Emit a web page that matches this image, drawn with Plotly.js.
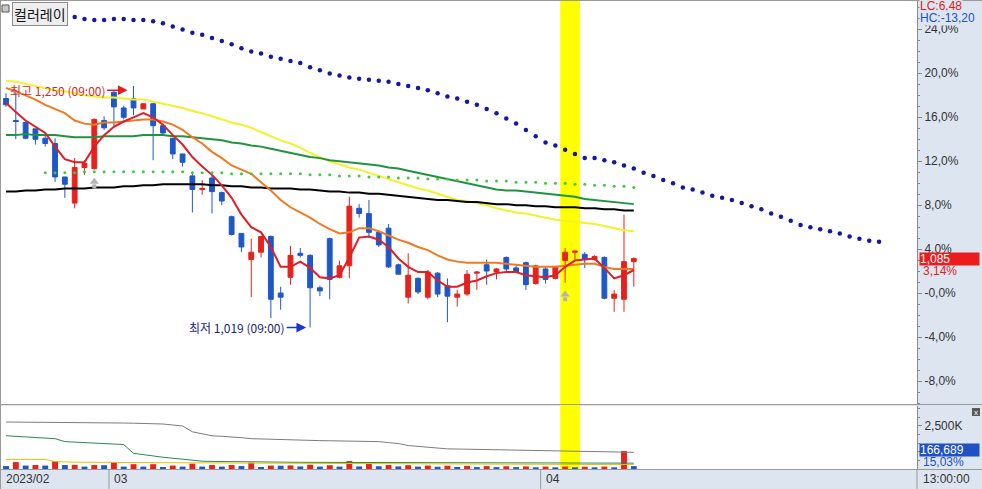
<!DOCTYPE html>
<html><head><meta charset="utf-8">
<script src="https://cdn.plot.ly/plotly-3.0.1.min.js"></script>
<style>html,body{margin:0;padding:0;background:#fff;}#chart{width:982px;height:489px;}</style>
</head><body><div id="chart"></div>
<script>
// ---------------- DATA ----------------
const basePrice = 1052;
const openP  = [1238,1217,1215,1209,1200,1195,1163,1138,1172,1171,1217,1244,1229,1238,1228,1233,1212,1200,1185,1164,1151,1162,1148,1125,1109,1084,1091,1106,1052,1067,1090,1088,1057,1104,1067,1078,1133,1128,1110,1114,1079,1048,1066,1048,1071,1059,1048,1051,1071,1079,1072,1086,1076,1081,1061,1075,1066,1083,1091,1089,1084,1086,1047,1046,1082];
const highP  = [1243,1246,1216,1209,1203,1200,1163,1181,1179,1219,1221,1245,1231,1250,1233,1234,1214,1200,1185,1168,1160,1165,1149,1126,1109,1104,1107,1107,1058,1097,1095,1089,1059,1105,1083,1144,1137,1141,1111,1118,1080,1090,1067,1074,1072,1066,1055,1074,1073,1084,1076,1087,1078,1082,1079,1077,1078,1095,1092,1091,1088,1087,1055,1127,1086];
const lowP   = [1230,1199,1199,1194,1192,1158,1143,1133,1165,1170,1208,1211,1218,1222,1228,1179,1203,1180,1173,1129,1146,1128,1136,1107,1091,1048,1086,1028,1036,1060,1086,1019,1049,1046,1066,1066,1124,1105,1096,1076,1070,1042,1051,1046,1048,1024,1039,1049,1055,1060,1065,1073,1071,1055,1060,1061,1065,1062,1084,1076,1083,1046,1034,1034,1058];
const closeP = [1232,1216,1200,1199,1195,1163,1156,1172,1176,1218,1210,1230,1220,1229,1233,1212,1205,1185,1177,1151,1152,1149,1140,1108,1096,1091,1106,1046,1048,1088,1088,1057,1054,1065,1078,1135,1128,1110,1098,1077,1070,1069,1053,1072,1051,1049,1051,1070,1072,1073,1075,1075,1072,1060,1078,1065,1077,1091,1092,1084,1087,1047,1051,1082,1085];
const volumeK = [170,400,200,230,200,450,230,240,140,230,220,400,140,280,140,280,115,200,140,310,140,230,140,230,170,370,115,200,190,210,150,250,140,220,140,460,150,290,160,230,150,220,140,200,130,190,120,180,110,170,110,160,110,150,100,140,100,140,100,130,100,140,100,1050,166.689];

const maRed    = [1234,1225,1217,1211,1205,1192,1180,1177,1177,1192,1203,1211,1216,1220,1224,1220,1213,1203,1194,1182,1173,1165,1155,1143,1127,1115,1110,1096,1077,1077,1082,1076,1067,1066,1069,1086,1105,1106,1103,1096,1085,1077,1072,1072,1064,1058,1058,1062,1064,1068,1071,1072,1072,1069,1068,1067,1069,1077,1083,1084,1085,1076,1066,1069,1074];
const maOrange = [1248,1245,1241,1237,1232,1228,1224,1217,1214,1213,1215,1215,1216,1217,1218,1218,1216,1213,1208,1201,1195,1187,1181,1174,1170,1166,1158,1150,1141,1134,1129,1124,1118,1113,1109,1110,1114,1114,1111,1107,1103,1100,1096,1093,1088,1084,1082,1081,1081,1081,1081,1080,1079,1078,1077,1077,1077,1078,1079,1080,1080,1077,1075,1075,1075];
const maYellow = [1255,1254,1252,1250,1248,1246,1245,1243,1241,1240,1239,1239,1238,1237,1237,1235,1233,1231,1229,1226,1224,1221,1218,1215,1213,1210,1206,1202,1198,1195,1191,1186,1182,1178,1175,1172,1170,1167,1164,1161,1158,1155,1152,1150,1147,1144,1141,1140,1138,1136,1133,1131,1129,1128,1126,1124,1122,1121,1120,1119,1118,1116,1114,1112,1111];
const maGreen  = [1203,1203,1204,1203,1203,1203,1202,1201,1201,1201,1202,1202,1202,1202,1203,1203,1203,1202,1202,1201,1200,1199,1198,1196,1195,1193,1192,1190,1188,1186,1184,1182,1181,1179,1178,1177,1176,1175,1174,1172,1171,1169,1167,1165,1163,1161,1159,1157,1155,1153,1151,1150,1150,1149,1148,1147,1146,1145,1144,1142,1141,1140,1139,1138,1137];
const maBlack  = [1149,1149,1150,1150,1151,1151,1152,1152,1152,1153,1153,1153,1154,1154,1155,1155,1156,1156,1156,1156,1156,1155,1155,1154,1154,1153,1153,1152,1152,1152,1151,1151,1150,1149,1149,1148,1148,1147,1147,1146,1145,1144,1143,1142,1141,1141,1140,1139,1139,1138,1137,1137,1136,1136,1135,1135,1134,1134,1134,1133,1133,1132,1132,1131,1131];

const greenDotStart = 4;
const greenDots = [1167,1167,1167,1167,1168,1168,1168,1168,1168,1168,1168,1168,1168,1168,1168,
  1167,1167,1167,1167,1166,1166,1166,1166,1166,1166,1166,1166,1165,
  1165,1165,1164,1164,1164,1163,1163,1163,1162,1162,1162,1161,1161,1161,
  1160,1160,1160,1159,1159,1159,1158,1158,1158,1157,1157,1157,1156,1156,1155,1155,1154,1154,1153];
const blueDotStart = 6;
const blueDots = [1317,1316,1314,1313,1313,1314,1314,1313,1313,1312,1310,1307,1304,1301,
  1299,1296,1293,1290,1286,1283,1281,1278,1276,1274,1272,1268,1265,1262,1260,1258,1257,1256,1255,1254,1252,1250,1248,1246,1243,1240,1238,1235,1232,1228,1224,1219,1214,1208,1202,
  1196,1193,1189,1185,1181,1181,1179,1177,1174,1171,1167,1164,1160,1157,1153,1151,1148,1145,1143,1141,1138,1135,1132,1128,1125,1121,1117,1115,1113,1111,1109,1106,1104,1102,1101];

const volGray   = [2730,2728,2728,2725,2725,2722,2720,2715,2710,2700,2690,2680,2671,2660,2650,2640,2614,2557,2500,2160,2046,1932,1900,1875,1819,1762,1740,1720,1705,1700,1690,1660,1648,1640,1630,1620,1610,1600,1591,1534,1478,1364,1307,1250,1193,1170,1160,1150,1140,1137,1130,1120,1110,1100,1090,1085,1080,1075,1070,1060,1050,1023,1000,980,966];
const volGreen  = [1932,1900,1870,1830,1790,1762,1591,1560,1530,1500,1480,1450,1421,909,850,760,682,620,570,510,455,440,430,420,410,400,398,395,392,390,388,385,383,380,378,375,372,370,368,365,362,360,358,355,352,350,348,345,342,340,338,335,332,330,328,325,322,320,318,315,312,310,320,330,340];
const volYellow = [560,560,558,556,555,430,400,395,390,385,380,378,375,372,370,368,365,362,360,358,355,352,350,348,345,342,340,338,335,332,330,328,325,322,320,318,315,312,310,308,305,302,300,298,295,292,290,288,285,282,280,278,275,272,270,268,265,262,260,258,255,252,250,255,260];

const monthStartIdx = [0, 11, 55];
const monthLabels = ['2023/02', '03', '04'];
const pctTicks = [-8, -4, 0, 4, 8, 12, 16, 20, 24];
const highlightIdx = [57, 58];
const signalIdx = [9, 57];
const lcText = 'LC:6,48';
const hcText = 'HC:-13,20';
const volPctText = '15,03%';
const timeLabel = '13:00:00';
const volTickK = 2500;
const buttonLabel = '컬러레이';
const hiLabel = '최고', loLabel = '최저', timeOfExt = '(09:00)';

// ---------------- HELPERS ----------------
const N = closeP.length;
const idx = closeP.map((_, i) => i);
const range = (s, n) => Array.from({length: n}, (_, k) => s + k);
const fmt = v => Math.round(v).toLocaleString('en-US');
const pctStr = (k, d) => (k <= 0 ? '-' : '') + Math.abs(k).toFixed(d).replace('.', ',') + '%';
const PX = x => (x - 1) / 916;
const PY = y => (469 - y) / 468;
const RED = '#e8211c', BLUE = '#1e58c8';
const BG = '#dde6f0';
const numFont = {family: 'Liberation Sans, Arial, sans-serif', size: 12, color: '#333'};
const krFont = 'Noto Sans CJK KR, sans-serif';

// ---------------- TRACES ----------------
const line = (y, color, w) => ({x: idx, y, type: 'scatter', mode: 'lines', line: {color, width: w}, xaxis: 'x', yaxis: 'y'});
const traces = [
  line(maYellow, '#f2f22a', 2),
  line(maGreen, '#1f9440', 2),
  line(maBlack, '#000000', 2),
  line(maOrange, '#f07a22', 2),
  line(maRed, '#e01e26', 2),
  {x: range(greenDotStart, greenDots.length), y: greenDots, type: 'scatter', mode: 'markers',
   marker: {color: '#3ccc3c', size: 3}, xaxis: 'x', yaxis: 'y'},
  {x: range(blueDotStart, blueDots.length), y: blueDots, type: 'scatter', mode: 'markers',
   marker: {color: '#1616a6', size: 4.5}, xaxis: 'x', yaxis: 'y'},
  {x: idx, open: openP, high: highP, low: lowP, close: closeP, type: 'candlestick',
   increasing: {line: {color: RED, width: 1}, fillcolor: RED},
   decreasing: {line: {color: BLUE, width: 1}, fillcolor: BLUE},
   whiskerwidth: 0, xaxis: 'x', yaxis: 'y'},
  // signal arrows: stem + head
  {x: signalIdx, y: signalIdx.map(i => lowP[i] - 16), type: 'scatter', mode: 'markers',
   marker: {symbol: 'square', size: 4, color: '#b4b4b4'}, xaxis: 'x', yaxis: 'y'},
  {x: signalIdx, y: signalIdx.map(i => lowP[i] - 11.5), type: 'scatter', mode: 'markers',
   marker: {symbol: 'triangle-up', size: 8, color: '#b4b4b4'}, xaxis: 'x', yaxis: 'y'},
  {x: idx, y: volGray, type: 'scatter', mode: 'lines', line: {color: '#7c7c7c', width: 1}, xaxis: 'x', yaxis: 'y2'},
  {x: idx, y: volGreen, type: 'scatter', mode: 'lines', line: {color: '#2a8a52', width: 1}, xaxis: 'x', yaxis: 'y2'},
  {x: idx, y: volYellow, type: 'scatter', mode: 'lines', line: {color: '#e6c200', width: 1}, xaxis: 'x', yaxis: 'y2'},
  {x: idx, y: volumeK, type: 'bar', width: 0.6,
   marker: {color: volumeK.map((v, i) => (i > 0 && v > volumeK[i - 1]) ? RED : BLUE), line: {width: 0}},
   xaxis: 'x', yaxis: 'y2'}
];

// ---------------- AXES ----------------
const tickVals = pctTicks.map(k => basePrice * (1 + k / 100));
const tickText = pctTicks.map(k => pctStr(k, 1));
const minorVals = range(-10, 37).map(k => basePrice * (1 + k / 100));

let hiI = 0, loI = 0;
highP.forEach((v, i) => { if (v > highP[hiI]) hiI = i; });
lowP.forEach((v, i) => { if (v < lowP[loI]) loI = i; });
const lastClose = closeP[N - 1];
const lastPct = (lastClose / basePrice - 1) * 100;

const shapes = [
  {type: 'rect', xref: 'x', yref: 'paper', x0: highlightIdx[0] - 0.5, x1: highlightIdx[highlightIdx.length - 1] + 0.5,
   y0: 0, y1: 1, fillcolor: '#ffff00', line: {width: 0}, layer: 'below'},
  {type: 'line', xref: 'paper', yref: 'paper', x0: PX(0), x1: PX(982), y0: PY(404.5), y1: PY(404.5), line: {color: '#9a9a9a', width: 1}},
  {type: 'line', xref: 'paper', yref: 'paper', x0: PX(0), x1: PX(982), y0: PY(469.5), y1: PY(469.5), line: {color: '#9a9a9a', width: 1}},
  {type: 'line', xref: 'paper', yref: 'paper', x0: PX(0), x1: PX(982), y0: PY(0.5), y1: PY(0.5), line: {color: '#9a9a9a', width: 1}},
  {type: 'line', xref: 'paper', yref: 'paper', x0: PX(0.5), x1: PX(0.5), y0: PY(0), y1: PY(489), line: {color: '#9a9a9a', width: 1}},
  {type: 'line', xref: 'paper', yref: 'paper', x0: PX(917), x1: PX(917), y0: PY(469), y1: PY(489), line: {color: '#9a9a9a', width: 1}},
  {type: 'rect', xref: 'paper', yref: 'paper', x0: PX(2), x1: PX(9), y0: PY(5), y1: PY(12), fillcolor: '#c8c8c8', line: {color: '#555', width: 1}},
  {type: 'rect', xref: 'paper', yref: 'paper', x0: PX(972), x1: PX(980), y0: PY(408), y1: PY(416), fillcolor: '#5a5a5a', line: {width: 0}}
];
monthStartIdx.forEach((m, k) => {
  if (k > 0) shapes.push({type: 'line', xref: 'x', yref: 'paper', x0: m - 0.5, x1: m - 0.5, y0: PY(470), y1: PY(489), line: {color: '#9a9a9a', width: 1}});
});

const annotations = [
  {xref: 'paper', yref: 'paper', x: PX(12), y: PY(2), xanchor: 'left', yanchor: 'top', text: buttonLabel, showarrow: false,
   bgcolor: '#eeeeee', bordercolor: '#8c8c8c', borderwidth: 1, borderpad: 1, font: {family: krFont, size: 14, color: '#111'}},
  {xref: 'x', yref: 'y', x: hiI - 0.6, y: highP[hiI] - 4, ax: -70, ay: 0, showarrow: true,
   text: hiLabel + ' ' + fmt(highP[hiI]) + ' ' + timeOfExt, arrowcolor: '#e01e1e', arrowhead: 2, arrowsize: 1.3, arrowwidth: 1.5,
   font: {family: krFont, size: 12, color: '#d42a2a'}},
  {xref: 'x', yref: 'y', x: loI - 0.4, y: lowP[loI], ax: -69, ay: 0, showarrow: true,
   text: loLabel + ' ' + fmt(lowP[loI]) + ' ' + timeOfExt, arrowcolor: '#1a34d8', arrowhead: 2, arrowsize: 1.3, arrowwidth: 1.5,
   font: {family: krFont, size: 12, color: '#1c2670'}},
  {xref: 'paper', yref: 'paper', x: PX(919), y: PY(6), xanchor: 'left', yanchor: 'middle', text: lcText, showarrow: false,
   bgcolor: BG, borderpad: 0, font: {family: numFont.family, size: 12, color: '#e02020'}},
  {xref: 'paper', yref: 'paper', x: PX(919), y: PY(18), xanchor: 'left', yanchor: 'middle', text: hcText, showarrow: false,
   bgcolor: BG, borderpad: 0, font: {family: numFont.family, size: 12, color: '#2450c0'}},
  {xref: 'paper', yref: 'y', x: PX(919), y: lastClose, xanchor: 'left', yanchor: 'middle', text: fmt(lastClose), showarrow: false,
   bgcolor: '#ec1c1c', width: 59, height: 12, align: 'left', borderpad: 0, font: {family: numFont.family, size: 12, color: '#ffffff'}},
  {xref: 'paper', yref: 'y', x: PX(921), y: lastClose, yshift: -12, xanchor: 'left', yanchor: 'middle', text: lastPct.toFixed(2).replace('.', ',') + '%', showarrow: false,
   font: {family: numFont.family, size: 12, color: '#e02020'}},
  {xref: 'paper', yref: 'paper', x: PX(919), y: PY(450), xanchor: 'left', yanchor: 'middle', text: fmt(volumeK[N - 1] * 1000), showarrow: false,
   bgcolor: '#1f50c6', width: 59, height: 12, align: 'left', borderpad: 0, font: {family: numFont.family, size: 12, color: '#ffffff'}},
  {xref: 'paper', yref: 'paper', x: PX(921), y: PY(462), xanchor: 'left', yanchor: 'middle', text: volPctText, showarrow: false,
   font: {family: numFont.family, size: 12, color: '#1f50c6'}},
  {xref: 'paper', yref: 'paper', x: PX(976), y: PY(412), xanchor: 'center', yanchor: 'middle', text: 'x', showarrow: false,
   font: {family: numFont.family, size: 8, color: '#ffffff'}},
  {xref: 'paper', yref: 'paper', x: PX(921), y: PY(479), xanchor: 'left', yanchor: 'middle', text: timeLabel, showarrow: false, font: numFont}
];
monthStartIdx.forEach((m, k) => {
  annotations.push({xref: 'x', yref: 'paper', x: m - 0.5, xshift: 3, y: PY(479), xanchor: 'left', yanchor: 'middle',
    text: monthLabels[k], showarrow: false, font: numFont});
});

const layout = {
  width: 982, height: 489,
  margin: {l: 1, r: 65, t: 1, b: 20, pad: 0},
  paper_bgcolor: BG, plot_bgcolor: '#ffffff',
  showlegend: false, hovermode: false,
  xaxis: {domain: [0, 1], range: [-0.51, 92.87], anchor: 'y2', showgrid: false, zeroline: false, showticklabels: false,
          ticks: '', showline: false, rangeslider: {visible: false}, fixedrange: true},
  yaxis: {domain: [65 / 468, 1], range: [945.84, 1331.27], side: 'right', anchor: 'x', tickmode: 'array',
          tickvals: tickVals, ticktext: tickText, ticks: 'outside', ticklen: 4, tickcolor: '#888', showline: true,
          linecolor: '#8a8a8a', linewidth: 1, showgrid: false, zeroline: false, tickfont: numFont, fixedrange: true,
          minor: {tickmode: 'array', tickvals: minorVals, ticks: 'outside', ticklen: 2, tickcolor: '#888', showgrid: false}},
  yaxis2: {domain: [0, 63 / 468], range: [0, 3660], side: 'right', anchor: 'x', tickmode: 'array',
           tickvals: [volTickK], ticktext: [fmt(volTickK) + 'K'], ticks: 'outside', ticklen: 4, tickcolor: '#888',
           showline: true, linecolor: '#8a8a8a', linewidth: 1, showgrid: false, zeroline: false, tickfont: numFont, fixedrange: true,
           minor: {tickmode: 'array', tickvals: [500, 1000, 1500, 2000, 3000, 3500], ticks: 'outside', ticklen: 2, tickcolor: '#888', showgrid: false}},
  shapes, annotations
};

Plotly.newPlot('chart', traces, layout, {staticPlot: true, displayModeBar: false});
</script>
</body></html>
